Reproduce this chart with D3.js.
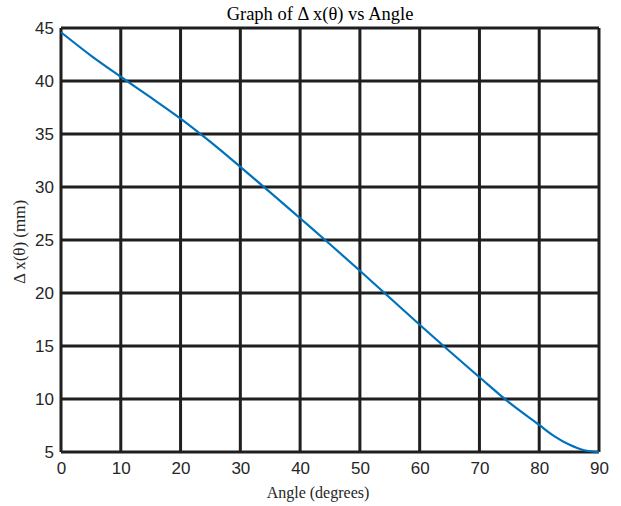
<!DOCTYPE html>
<html><head><meta charset="utf-8">
<script src="https://cdn.jsdelivr.net/npm/d3@7"></script>
<style>body{margin:0;background:#fff}svg{display:block}</style>
</head><body>
<script>
const angles = [0,5,10,15,20,25,30,35,40,45,50,55,60,65,70,75,80,82.5,85,87.5,90];
const deltaX = [44.6,42.4,40.4,38.45,36.45,34.25,31.9,29.5,27.05,24.6,22.1,19.55,17.0,14.5,12.05,9.65,7.55,6.5,5.7,5.17,5.0];
const xTicks = [0,10,20,30,40,50,60,70,80,90];
const yTicks = [5,10,15,20,25,30,35,40,45];
const titleText = "Graph of \u0394 x(\u03b8) vs Angle";
const xLabel = "Angle (degrees)";
const yLabel = "\u0394 x(\u03b8) (mm)";

const W = 621, H = 506;
const m = {left:61, right:22, top:28, bottom:54};
const svg = d3.select("body").append("svg").attr("width",W).attr("height",H);
const x = d3.scaleLinear().domain([0,90]).range([m.left, W-m.right]);
const y = d3.scaleLinear().domain([5,45]).range([H-m.bottom, m.top]);

const g = svg.append("g");
g.selectAll(".vg").data(xTicks).join("line")
  .attr("x1",d=>x(d)).attr("x2",d=>x(d)).attr("y1",y(5)).attr("y2",y(45))
  .attr("stroke","#1f1f1f").attr("stroke-width",3);
g.selectAll(".hg").data(yTicks).join("line")
  .attr("y1",d=>y(d)).attr("y2",d=>y(d)).attr("x1",x(0)).attr("x2",x(90))
  .attr("stroke","#1f1f1f").attr("stroke-width",3);

const xa = svg.append("g").attr("transform",`translate(0,${y(5)})`)
  .call(d3.axisBottom(x).tickValues(xTicks).tickSize(0).tickPadding(10));
const ya = svg.append("g").attr("transform",`translate(${x(0)},0)`)
  .call(d3.axisLeft(y).tickValues(yTicks).tickSize(0).tickPadding(7));
[xa,ya].forEach(a=>{
  a.select(".domain").remove();
  a.selectAll("text").attr("font-family","'Liberation Sans', Arial, sans-serif")
    .attr("font-size",17).attr("fill","#262626");
});

const line = d3.line().x((d,i)=>x(angles[i])).y(d=>y(d)).curve(d3.curveMonotoneX);
svg.append("path").datum(deltaX).attr("d",line)
  .attr("fill","none").attr("stroke","#0072BD").attr("stroke-width",2.2);

const serif = "'Liberation Serif', 'Times New Roman', serif";
svg.append("text").attr("x",320).attr("y",20).attr("text-anchor","middle")
  .attr("font-family",serif).attr("font-size",18.5).attr("fill","#000").text(titleText);
svg.append("text").attr("x",318).attr("y",498).attr("text-anchor","middle")
  .attr("font-family",serif).attr("font-size",16).attr("fill","#262626").text(xLabel);
svg.append("text").attr("transform","translate(25,242) rotate(-90)").attr("text-anchor","middle")
  .attr("font-family",serif).attr("font-size",17).attr("fill","#262626").text(yLabel);
</script>
</body></html>
